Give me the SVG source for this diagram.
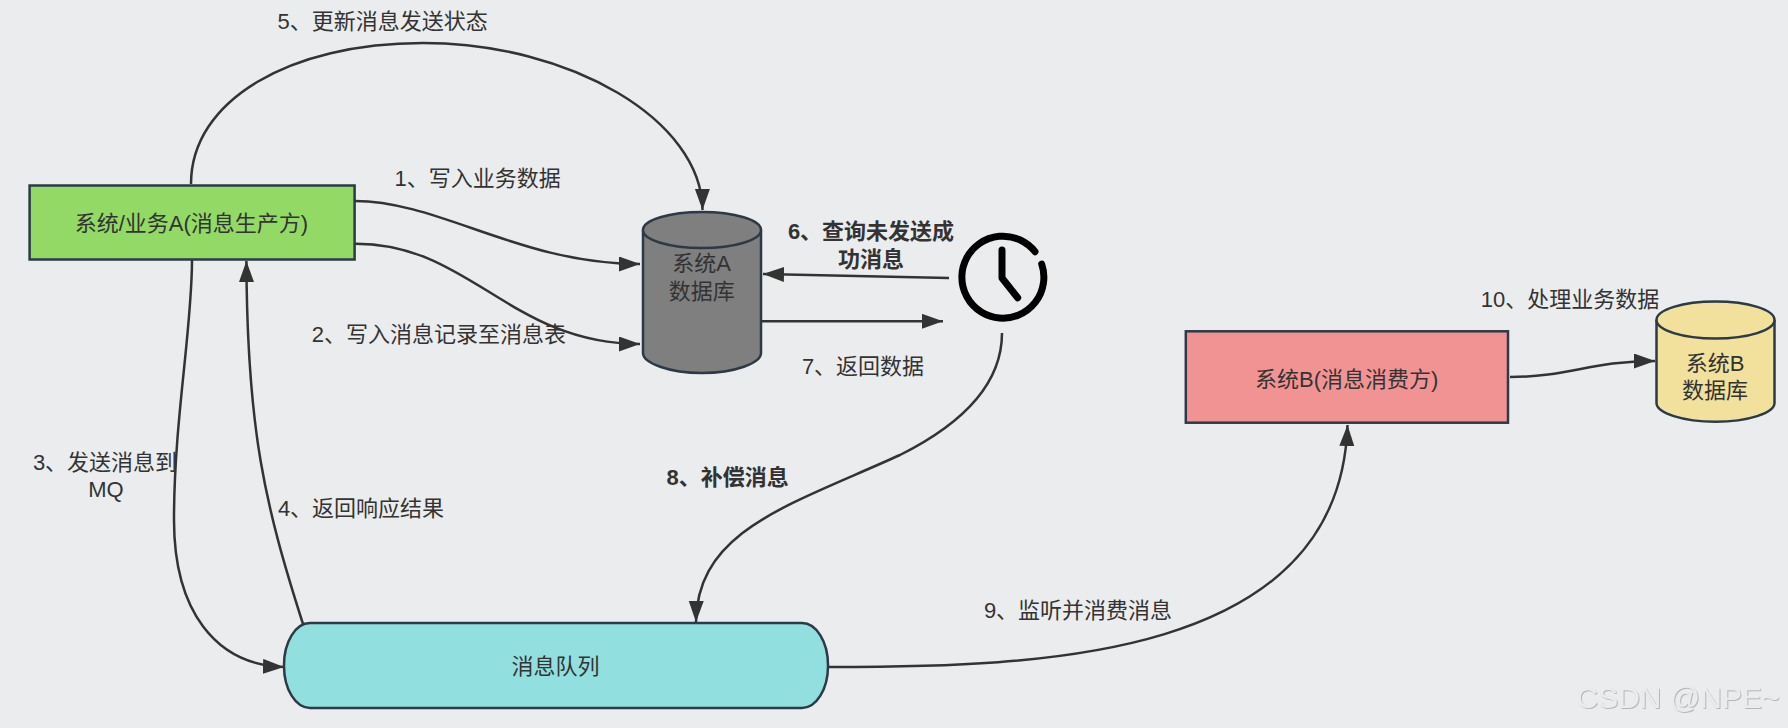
<svg xmlns="http://www.w3.org/2000/svg" width="1788" height="728" viewBox="0 0 1788 728">
<style>
text{font-family:"Liberation Sans","Noto Sans CJK SC",sans-serif;font-size:22px;fill:#333;text-anchor:middle;dominant-baseline:central}
.b{font-weight:700}
.n{stroke:#2c3a47;stroke-width:2.5}
.c{fill:none;stroke:#333;stroke-width:2.5}
.a{marker-end:url(#arrow)}
.clock{fill:none;stroke:#000;stroke-width:7;stroke-linecap:round;stroke-linejoin:round}
</style>
<defs>
<marker id="arrow" markerUnits="userSpaceOnUse" markerWidth="24" markerHeight="16" refX="21" refY="7.500" orient="auto"><path d="M0 0L21 7.500L0 15Z" fill="#333"/></marker>
<filter id="emboss" x="-5%" y="-20%" width="110%" height="140%"><feDropShadow dx="0.8" dy="0.8" stdDeviation="0.5" flood-color="#a9a9ab"/></filter>
</defs>
<rect width="1788" height="728" fill="#ebecee"/>
<g id="connectors">
<path class="c a" d="M191 184C191 100 290 43 423 43C570 43 702 120 702.500 210"/>
<path class="c a" d="M354.600 201C440 201 520 264 640 264"/>
<path class="c a" d="M354.600 243.700C470 243 510 344 640 344"/>
<path class="c a" d="M192 260C192 330 174 420 174 520C174 610 215 665 284 667"/>
<path class="c a" d="M303 624C265 505 247 430 246.400 261"/>
<path class="c a" d="M949 278L763 274"/>
<path class="c a" d="M761.700 321.300L943 321.300"/>
<path class="c a" d="M1002 333C1002 385 960 425 900 455C790 505 697 530 696 622"/>
<path class="c a" d="M829 667C1040 667 1340 660 1347.500 425"/>
<path class="c a" d="M1510 377C1570 377 1590 361 1655 361"/>
</g>
<g id="node-a"><rect class="n" x="29.600" y="185.500" width="325" height="74" fill="#92d966"/><text x="191.400" y="223">系统/业务A(消息生产方)</text></g>
<g id="db-a"><path class="n" fill="#7f7f7f" d="M643 230V353C643 363 669 373 702 373C735 373 761 363 761 353V230"/><ellipse class="n" cx="702" cy="230" rx="59" ry="18" fill="#7f7f7f"/><text x="701.700" y="263">系统A</text><text x="701.700" y="291">数据库</text></g>
<g id="clock"><path class="clock" d="M1035 251.700A41 41 0 1 0 1041.700 264"/><path class="clock" d="M1002 250V278L1017.700 297.700"/></g>
<g id="queue"><rect class="n" x="284" y="623" width="544" height="85" rx="26" ry="42" fill="#92dfe0"/><text x="555.400" y="666.700">消息队列</text></g>
<g id="node-b"><rect class="n" x="1185.800" y="331.300" width="322.200" height="91.400" fill="#f19393"/><text x="1346.700" y="379">系统B(消息消费方)</text></g>
<g id="db-b"><path class="n" fill="#f1e19d" d="M1656.500 320V403C1656.500 413 1683 421.700 1715.500 421.700C1748 421.700 1774.500 413 1774.500 403V320"/><ellipse class="n" cx="1715.500" cy="320" rx="59" ry="18.500" fill="#f1e19d"/><text x="1715" y="363">系统B</text><text x="1715" y="390.700">数据库</text></g>
<g id="labels">
<text x="382.600" y="21.700">5、更新消息发送状态</text>
<text x="477.600" y="178">1、写入业务数据</text>
<text x="438.800" y="334">2、写入消息记录至消息表</text>
<text x="105" y="462">3、发送消息到</text>
<text x="106" y="489">MQ</text>
<text x="361" y="508">4、返回响应结果</text>
<text class="b" x="871" y="231.700">6、查询未发送成</text>
<text class="b" x="871" y="259">功消息</text>
<text x="863" y="366.700">7、返回数据</text>
<text class="b" x="727.600" y="477">8、补偿消息</text>
<text x="1078" y="610">9、监听并消费消息</text>
<text x="1570" y="299">10、处理业务数据</text>
<text x="1678" y="697" style="font-size:30px;fill:#ebecee" filter="url(#emboss)">CSDN @NPE~</text>
</g>
</svg>
